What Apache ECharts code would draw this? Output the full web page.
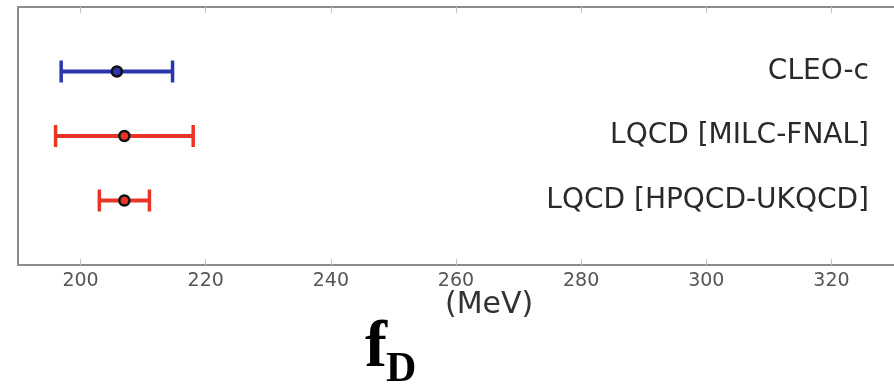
<!DOCTYPE html>
<html>
<head>
<meta charset="utf-8">
<script src="https://cdn.jsdelivr.net/npm/echarts@6/dist/echarts.min.js"></script>
<style>
html,body{margin:0;padding:0;background:#fff;}
#chart{width:894px;height:384px;}
</style>
</head>
<body>
<div id="chart"></div>
<script>
// Data (bottom to top)
var categories = ['LQCD [HPQCD-UKQCD]', 'LQCD [MILC-FNAL]', 'CLEO-c'];
var centralValues = [207.0, 207.0, 205.8];
var lowValues = [203.0, 196.0, 196.9];
var highValues = [211.0, 218.0, 214.7];
var seriesColors = ['#e8352a', '#e8352a', '#2b36ad'];
var xTickValues = [200, 220, 240, 260, 280, 300, 320];

var chart = echarts.init(document.getElementById('chart'), null, {renderer: 'canvas'});

var barData = categories.map(function (c, i) {
  return [i + 1, lowValues[i], highValues[i]];
});
var pointData = categories.map(function (c, i) {
  return {value: [centralValues[i], i + 1], itemStyle: {color: seriesColors[i]}};
});

var frameColor = '#8c8c8c';
var tickFont = {color: '#555', fontSize: 19, fontFamily: 'DejaVu Sans'};

var option = {
  animation: false,
  backgroundColor: '#ffffff',
  grid: {left: 18, right: -5, top: 7, bottom: 119, containLabel: false},
  xAxis: [{
    type: 'value', position: 'bottom', min: 190, max: 330,
    axisLine: {show: true, onZero: false, lineStyle: {color: frameColor, width: 2}},
    axisTick: {show: true, inside: true, length: 6, customValues: xTickValues, lineStyle: {color: '#c4c4c4', width: 1}},
    axisLabel: {show: true, customValues: xTickValues, margin: 7, color: tickFont.color, fontSize: tickFont.fontSize, fontFamily: tickFont.fontFamily},
    splitLine: {show: false}
  }, {
    type: 'value', position: 'top', min: 190, max: 330,
    axisLine: {show: true, onZero: false, lineStyle: {color: frameColor, width: 2}},
    axisTick: {show: true, inside: true, length: 6, customValues: xTickValues, lineStyle: {color: '#c4c4c4', width: 1}},
    axisLabel: {show: false},
    splitLine: {show: false}
  }],
  yAxis: [{
    type: 'value', position: 'left', min: 0, max: 4, interval: 1,
    axisLine: {show: true, onZero: false, lineStyle: {color: frameColor, width: 2}},
    axisTick: {show: false}, axisLabel: {show: false}, splitLine: {show: false}
  }, {
    type: 'value', position: 'right', min: 0, max: 4, interval: 1,
    axisLine: {show: false, onZero: false}, axisTick: {show: false}, splitLine: {show: false},
    axisLabel: {
      show: true, inside: true, margin: 25,
      color: '#2a2a2a', fontSize: 28, fontFamily: 'DejaVu Sans',
      formatter: function (v) {
        var idx = Math.round(v) - 1;
        return (idx >= 0 && idx < categories.length) ? categories[idx] : '';
      }
    }
  }],
  series: [{
    type: 'custom',
    xAxisIndex: 0, yAxisIndex: 0,
    data: barData,
    encode: {x: [1, 2], y: 0},
    renderItem: function (params, api) {
      var y = api.value(0);
      var lo = api.coord([api.value(1), y]);
      var hi = api.coord([api.value(2), y]);
      var color = seriesColors[params.dataIndex];
      var half = 11;
      return {
        type: 'group',
        children: [
          {type: 'line', shape: {x1: lo[0], y1: lo[1], x2: hi[0], y2: hi[1]}, style: {stroke: color, lineWidth: 4}},
          {type: 'line', shape: {x1: lo[0], y1: lo[1] - half, x2: lo[0], y2: lo[1] + half}, style: {stroke: color, lineWidth: 3.5}},
          {type: 'line', shape: {x1: hi[0], y1: hi[1] - half, x2: hi[0], y2: hi[1] + half}, style: {stroke: color, lineWidth: 3.5}}
        ]
      };
    },
    z: 2
  }, {
    type: 'scatter',
    xAxisIndex: 0, yAxisIndex: 0,
    data: pointData,
    symbol: 'circle',
    symbolSize: 10,
    itemStyle: {borderColor: '#111', borderWidth: 2.5, opacity: 1},
    z: 3
  }],
  graphic: [{
    type: 'text', left: 445, top: 290,
    style: {text: '(MeV)', fill: '#333', font: '30px "DejaVu Sans"'}
  }, {
    type: 'text', left: 365, top: 316,
    style: {text: 'f', fill: '#000', font: 'bold 66px "Liberation Serif"'}
  }, {
    type: 'text', left: 386, top: 349,
    style: {text: 'D', fill: '#000', font: 'bold 42px "Liberation Serif"'}
  }]
};
chart.setOption(option);
</script>
</body>
</html>
